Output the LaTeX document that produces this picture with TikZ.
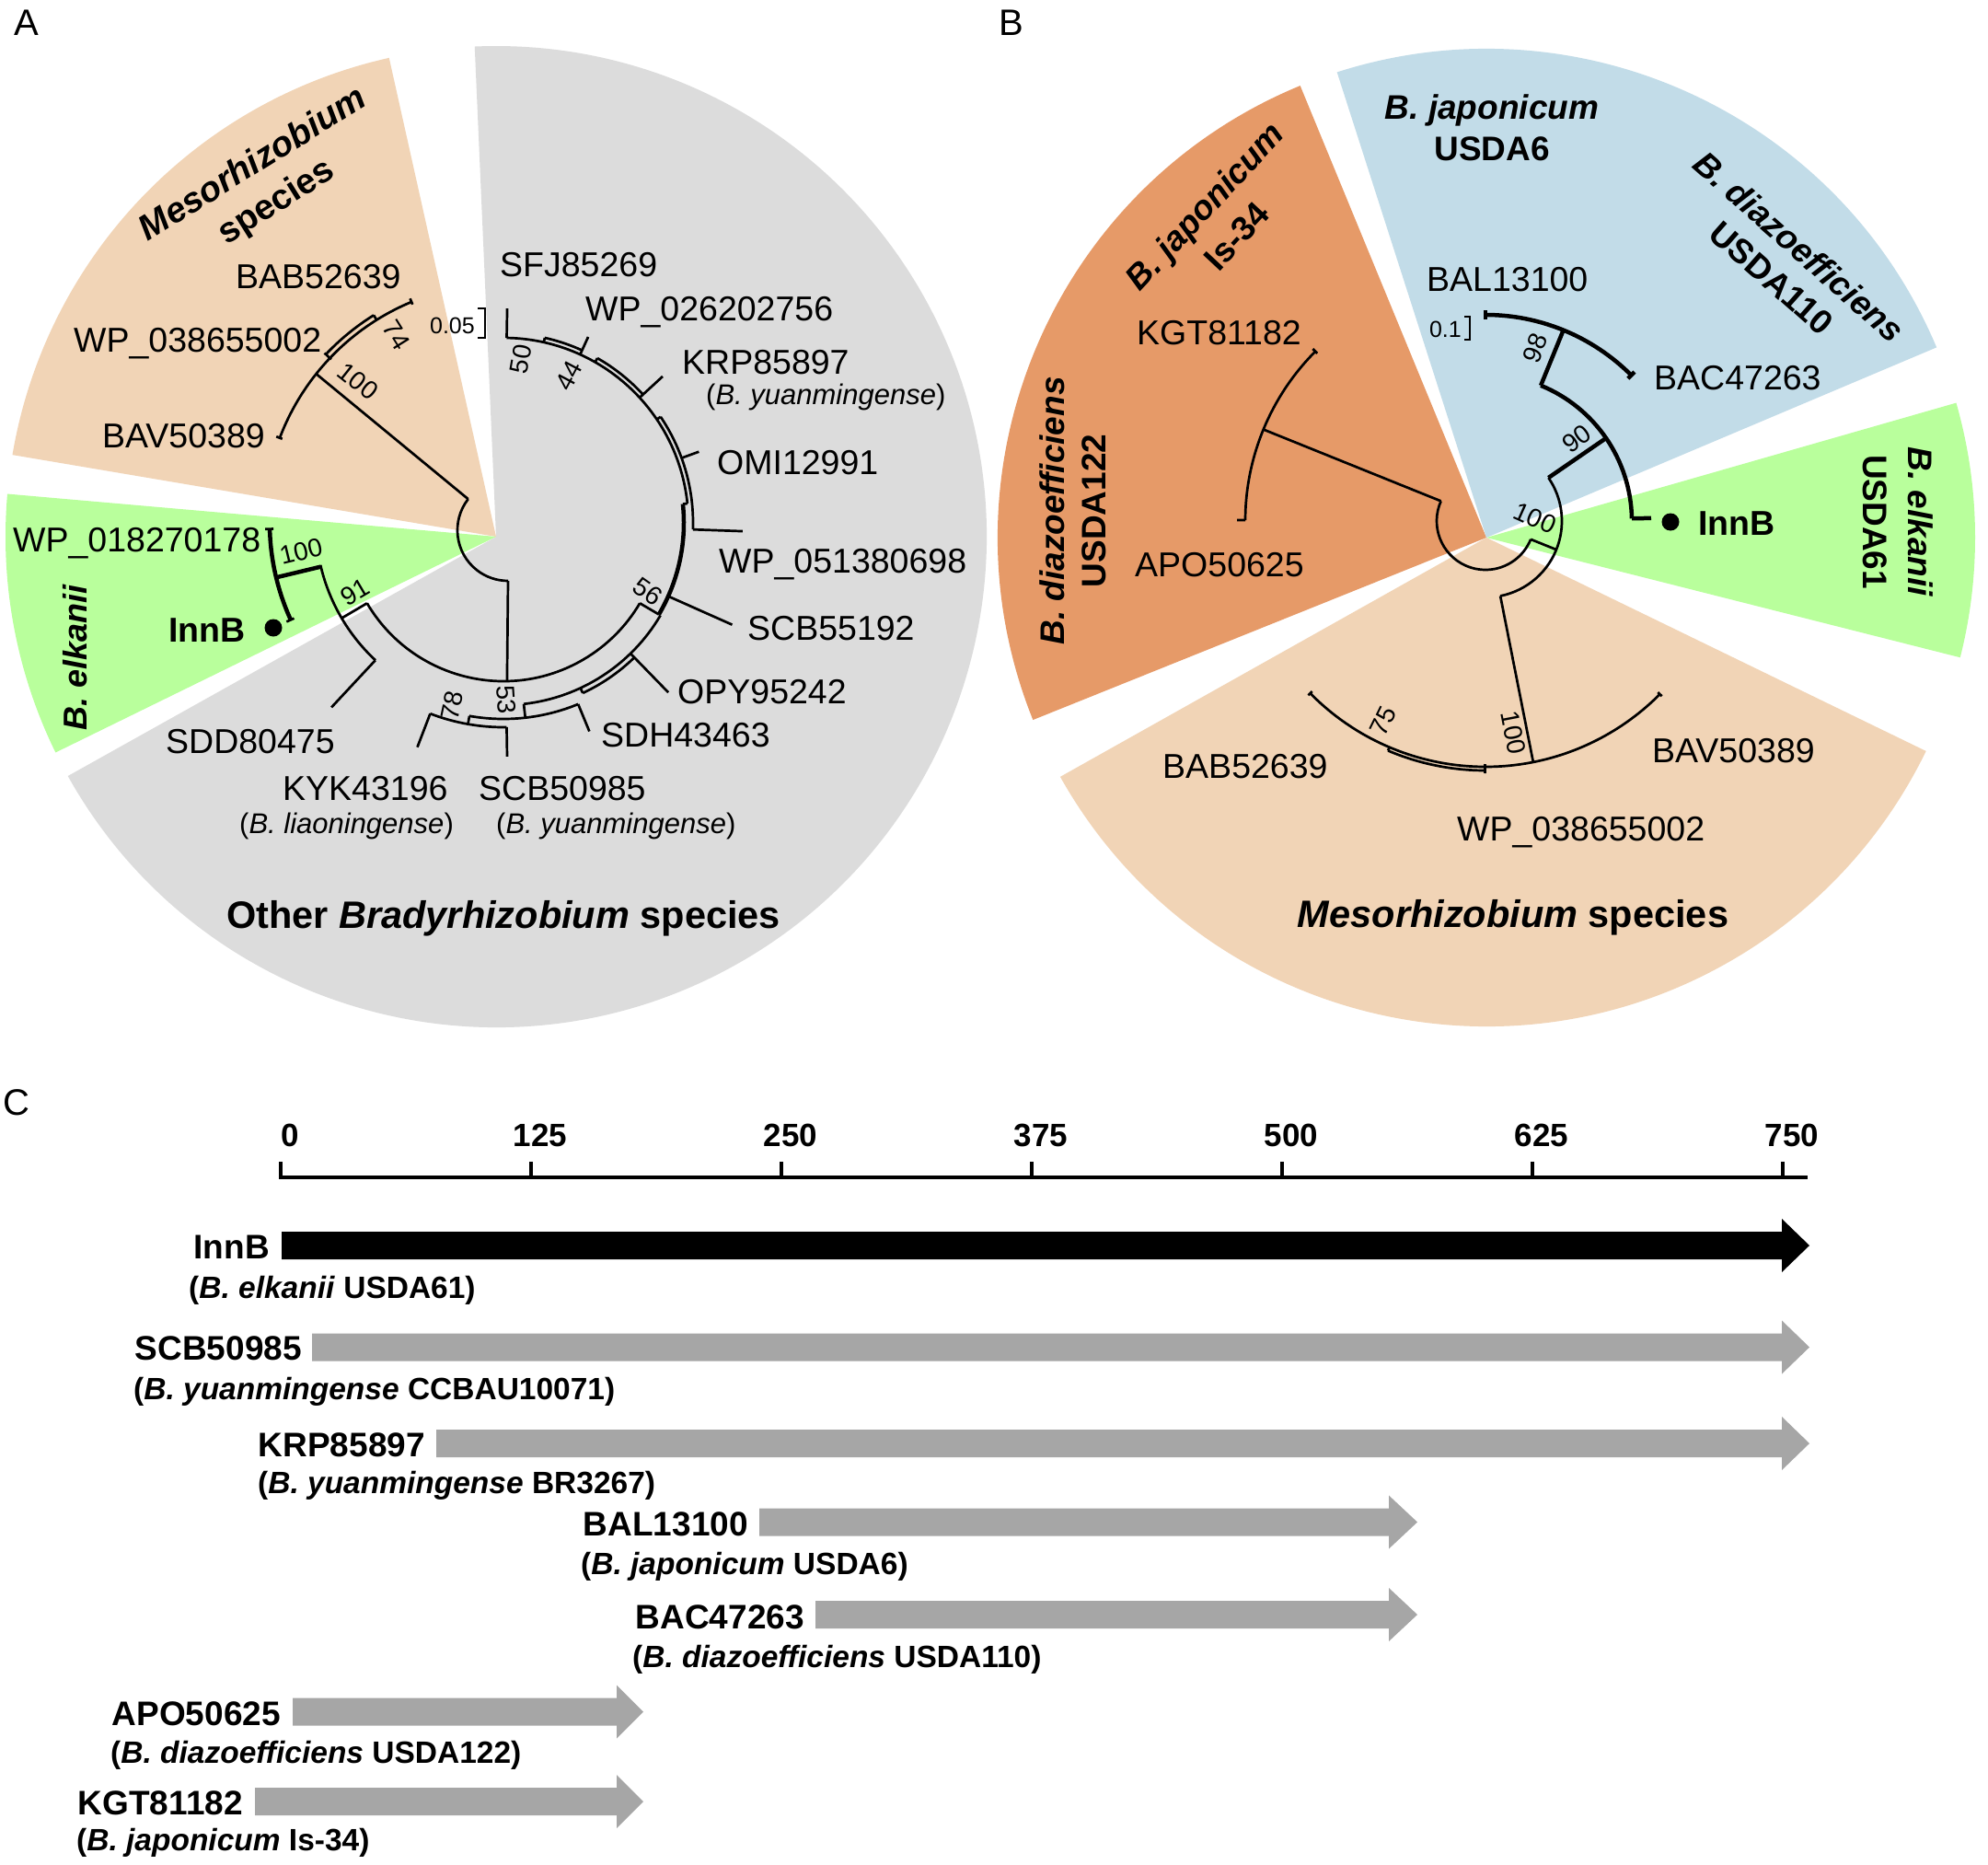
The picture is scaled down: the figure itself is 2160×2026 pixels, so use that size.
\documentclass[tikz,border=0pt]{standalone}
\usepackage{fontspec}
\setmainfont{Liberation Sans}
\usetikzlibrary{calc}
\definecolor{wgray}{HTML}{DCDCDC}
\definecolor{wpeach}{HTML}{F1D4B6}
\definecolor{wgreen}{HTML}{B9FF9C}
\definecolor{wblue}{HTML}{C2DCE8}
\definecolor{worange}{HTML}{E69A68}
\definecolor{agray}{HTML}{A6A6A6}
\newcommand{\fsz}[2]{\fontsize{#1pt}{#2pt}\selectfont}
\newcommand{\rseg}[5][]{\draw[treeline,#1] ($(#2)+(#3:#4)$) -- ($(#2)+(#3:#5)$);}
\newcommand{\aseg}[5][]{\draw[treeline,#1] ($(#2)+(#3:#5)$) arc[start angle=#3, end angle=#4, radius=#5];}
\newcommand{\sector}[5]{\fill[#1] (#2) -- ($(#2)+(#3:#5)$) arc[start angle=#3, end angle=#4, radius=#5] -- cycle;}
% color, x0, xbase, xtip, ycenter
\newcommand{\genearrow}[5]{\fill[#1] ({#2},{-(#5)+15}) -- ({#3},{-(#5)+15}) -- ({#3},{-(#5)+29}) -- ({#4},{-(#5)}) -- ({#3},{-(#5)-29}) -- ({#3},{-(#5)-15}) -- ({#2},{-(#5)-15}) -- cycle;}
\begin{document}
\begin{tikzpicture}[x=1pt,y=1pt,
  treeline/.style={line width=2.7pt},
  thk/.style={line width=4.5pt},
  lab/.style={inner sep=0pt, anchor=west, font=\fsz{37.5}{45}},
  blab/.style={inner sep=0pt, font=\fsz{37.5}{45}\bfseries},
  sublab/.style={inner sep=0pt, anchor=west, font=\fsz{31}{37}},
  boot/.style={inner sep=0pt, font=\fsz{28}{33}},
  scl/.style={inner sep=0pt, font=\fsz{25}{30}},
  grp/.style={inner sep=0pt, align=center, font=\fsz{37}{45}\bfseries},
  bigl/.style={inner sep=0pt, font=\fsz{41.5}{50}\bfseries},
  panel/.style={inner sep=0pt, font=\fsz{40}{48}},
  gname/.style={inner sep=0pt, anchor=east, font=\fsz{37}{44}\bfseries},
  gsub/.style={inner sep=0pt, anchor=west, font=\fsz{33.5}{40}\bfseries},
  tick/.style={inner sep=0pt, font=\fsz{35}{42}\bfseries}]
\fill[white] (0,0) rectangle (2160,-2026);
\useasboundingbox (0,0) rectangle (2160,-2026);

% ---------------- Panel A ----------------
\node[panel] (pA) at (29,-25) {A};
\coordinate (WA) at (539,-583);
\sector{wgray}{WA}{-150.8}{92.5}{533}
\sector{wpeach}{WA}{102.6}{170.4}{533}
\sector{wgreen}{WA}{175}{206.1}{533}

\coordinate (TA) at (547,-568);
\coordinate (RA) at (552,-576);
% root
\aseg{RA}{142}{270}{55}
\draw[treeline] ($(RA)+(142:55)$) -- ($(TA)+(141.5:260)$);
\draw[treeline] ($(RA)+(270:55)$) -- ($(TA)+(-88.7:172)$);
% Mesorhizobium clade
\aseg{TA}{112.6}{159.2}{260}
\aseg{TA}{122}{136.5}{266}
\rseg{TA}{122}{260}{266}
\rseg{TA}{136.5}{258}{268}
\rseg{TA}{112.6}{257}{264}
\rseg{TA}{159.2}{257}{264}
% upper gray clade
\rseg{TA}{89}{201}{233}
\aseg{TA}{6}{89}{201}
\aseg{TA}{65.5}{77.4}{206}
\rseg{TA}{77.4}{201}{206}
\rseg{TA}{65.5}{201}{222}
\aseg{TA}{42.6}{60.3}{206}
\rseg{TA}{60.3}{201}{206}
\rseg{TA}{42.6}{201}{235}
\aseg{TA}{8.4}{34}{206}
\rseg{TA}{34}{201}{206}
\rseg{TA}{20}{206}{226}
\aseg{TA}{-2}{8.4}{206}
\rseg{TA}{-2}{206}{260}
\rseg{TA}{6}{196}{201}
\aseg[thk]{TA}{-30.5}{6}{196}
\rseg{TA}{-24}{196}{272}
\rseg{TA}{-30.5}{172}{196}
% node X arc
\aseg{TA}{-149.5}{-30.5}{172}
% node 91
\rseg{TA}{-149.5}{172}{204}
\aseg{TA}{-167}{-133}{204}
\rseg{TA}{-133}{204}{274}
% elkanii clade
\rseg[thk]{TA}{-166.5}{204}{254}
\aseg[thk]{TA}{181.5}{204.5}{254}
\rseg{TA}{181.5}{250}{259}
\rseg{TA}{204.5}{250}{259}
\fill (297,-682) circle[radius=9.5];
% lower gray clade
\aseg{TA}{-83.6}{-30.5}{198}
\aseg{TA}{-65}{-45.8}{204}
\rseg{TA}{-65}{198}{204}
\rseg{TA}{-45.8}{198}{257}
\rseg{TA}{-83.6}{198}{213}
\aseg{TA}{-100}{-67.6}{213}
\rseg{TA}{-67.6}{213}{245}
\rseg{TA}{-100}{213}{222}
\aseg{TA}{-111}{-89.1}{222}
\rseg{TA}{-111}{222}{261}
\rseg{TA}{-89.1}{222}{254}
% scale bar
\draw[line width=2pt] (519,-335) -- (527,-335) -- (527,-367) -- (519,-367);
\node[scl, anchor=east] (sA) at (516,-354) {0.05};
% bootstrap A
\node[boot, rotate=-58] (b74) at (431,-364) {74};
\node[boot, rotate=-38.5] (b100m) at (389,-414) {100};
\node[boot, rotate=80] (b50) at (566,-390) {50};
\node[boot, rotate=62] (b44) at (618,-408) {44};
\node[boot, rotate=-35] (b56) at (704,-643) {56};
\node[boot, rotate=-86] (b53) at (550,-760) {53};
\node[boot, rotate=78] (b78) at (491,-766) {78};
\node[boot, rotate=30.5] (b91) at (386,-643) {91};
\node[boot, rotate=13.5] (b100e) at (327,-599) {100};
% leaf labels A
\node[lab] (aSFJ) at (543,-288) {SFJ85269};
\node[lab] (aWP026) at (636,-339) {WP\_026202756};
\node[lab] (aKRP) at (741,-394) {KRP85897};
\node[sublab] (aKRPs) at (767,-431) {(\textit{B. yuanmingense})};
\node[lab] (aOMI) at (779,-503) {OMI12991};
\node[lab] (aWP051) at (781,-613) {WP\_051380698};
\node[lab] (aSCB55) at (812,-683) {SCB55192};
\node[lab] (aOPY) at (736,-752) {OPY95242};
\node[lab] (aSDH) at (653,-799) {SDH43463};
\node[lab] (aSDD) at (180,-806) {SDD80475};
\node[lab] (aKYK) at (307,-857) {KYK43196};
\node[sublab] (aKYKs) at (260,-897) {(\textit{B. liaoningense})};
\node[lab] (aSCB50) at (520,-857) {SCB50985};
\node[sublab] (aSCB50s) at (539,-897) {(\textit{B. yuanmingense})};
\node[lab] (aWP018) at (14,-590) {WP\_018270178};
\node[blab, anchor=east] (aInnB) at (267,-685) {InnB};
\node[lab] (aBAB) at (256,-301) {BAB52639};
\node[lab] (aWP038) at (80,-373) {WP\_038655002};
\node[lab] (aBAV) at (111,-474) {BAV50389};
% group labels A
\node[grp, rotate=32, font=\fsz{38.5}{48}\bfseries] (gMesoA) at (288,-200) {\textit{Mesorhizobium}\\species};
\node[grp, rotate=90, font=\fsz{36}{44}\bfseries] (gElkA) at (82,-714) {\textit{B. elkanii}};
\node[bigl] (gOther) at (547,-998) {Other \textit{Bradyrhizobium} species};

% ---------------- Panel B ----------------
\node[panel] (pB) at (1099,-25) {B};
\coordinate (WB) at (1615,-584);
\sector{worange}{WB}{112.4}{201.9}{531}
\sector{wblue}{WB}{22.9}{107.8}{531}
\sector{wgreen}{WB}{-14.2}{16}{531}
\sector{wpeach}{WB}{-150.7}{-25.9}{531}

\coordinate (TB) at (1614,-566);
\aseg{TB}{155.9}{338}{53}
\draw[treeline] ($(TB)+(155.9:53)$) -- ($(TB)+(157.6:261)$);
\aseg{TB}{135.1}{179.8}{261}
\rseg{TB}{179.8}{261}{270}
\rseg{TB}{135.1}{258}{265}
\rseg{TB}{-22}{53}{83}
\aseg{TB}{-78.8}{34.5}{83}
\rseg{TB}{-78.8}{83}{267}
\aseg{TB}{-135.5}{-44.8}{267}
\aseg{TB}{-113}{-90.1}{271}
\rseg{TB}{-113}{267}{271}
\rseg{TB}{-90.1}{264}{274}
\rseg{TB}{-135.5}{264}{270}
\rseg{TB}{-44.8}{264}{270}
\rseg[thk]{TB}{34.5}{83}{159}
\aseg[thk]{TB}{1}{67.8}{159}
\rseg[thk]{TB}{1}{159}{180}
\fill (1815,-567) circle[radius=9.5];
\rseg[thk]{TB}{67.8}{159}{224}
\aseg[thk]{TB}{45}{90}{224}
\rseg[thk]{TB}{90}{219}{229}
\rseg[thk]{TB}{45}{219}{229}
% scale bar B
\draw[line width=2pt] (1591,-344) -- (1597,-344) -- (1597,-369) -- (1591,-369);
\node[scl, anchor=east] (sB) at (1588,-358) {0.1};
% bootstrap B
\node[boot, rotate=68] (c98) at (1668,-378) {98};
\node[boot, rotate=36] (c90) at (1713,-477) {90};
\node[boot, rotate=-24] (c100) at (1668,-563) {100};
\node[boot, rotate=64] (c75) at (1503,-783) {75};
\node[boot, rotate=-79] (c100m) at (1644,-796) {100};
% leaf labels B
\node[lab] (bBAL) at (1550,-304) {BAL13100};
\node[lab] (bBAC) at (1797,-411) {BAC47263};
\node[lab] (bKGT) at (1235,-362) {KGT81182};
\node[lab] (bAPO) at (1233,-614) {APO50625};
\node[blab, anchor=west] (bInnB) at (1845,-569) {InnB};
\node[lab] (bBAB) at (1263,-833) {BAB52639};
\node[lab] (bBAV) at (1795,-816) {BAV50389};
\node[lab] (bWP038) at (1583,-904) {WP\_038655002};
% group labels B
\node[grp] (gJap6) at (1621,-139) {\textit{B. japonicum}\\USDA6};
\node[grp, rotate=-41.5] (gDia110) at (1940,-285) {\textit{B. diazoefficiens}\\USDA110};
\node[grp, rotate=47, font=\fsz{37}{48}\bfseries] (gJapIs) at (1326,-240) {\textit{B. japonicum}\\Is-34};
\node[grp, rotate=90] (gDia122) at (1166,-555) {\textit{B. diazoefficiens}\\USDA122};
\node[grp, rotate=-90, font=\fsz{37}{49}\bfseries] (gElkB) at (2062,-567) {\textit{B. elkanii}\\USDA61};
\node[bigl] (gMesoB) at (1644,-997) {\textit{Mesorhizobium} species};

% ---------------- Panel C ----------------
\node[panel] (pC) at (18,-1198) {C};
\draw[line width=3.3pt] (305,-1262) -- (305,-1279) -- (1964,-1279);
\foreach \k/\t in {0/0,1/125,2/250,3/375,4/500,5/625,6/750}{
  \draw[line width=3.3pt] ({305+272*\k},-1279) -- ({305+272*\k},-1262);
  \node[tick] (t\k) at ({315+272*\k},-1233) {\t};
}
\genearrow{black}{306}{1936}{1966}{1353}
\genearrow{agray}{339}{1936}{1966}{1463.5}
\genearrow{agray}{474}{1936}{1966}{1568}
\genearrow{agray}{825}{1509}{1540}{1653.5}
\genearrow{agray}{886}{1509}{1540}{1754}
\genearrow{agray}{318}{670}{699}{1859.5}
\genearrow{agray}{277}{670}{699}{1957}
\node[gname] (cInnB) at (293,-1355) {InnB};
\node[gsub] (cInnBs) at (205,-1402) {(\textit{B. elkanii} USDA61)};
\node[gname] (cSCB) at (328,-1465) {SCB50985};
\node[gsub] (cSCBs) at (145,-1512) {(\textit{B. yuanmingense} CCBAU10071)};
\node[gname] (cKRP) at (462,-1570) {KRP85897};
\node[gsub] (cKRPs) at (280,-1614) {(\textit{B. yuanmingense} BR3267)};
\node[gname] (cBAL) at (813,-1656) {BAL13100};
\node[gsub] (cBALs) at (631,-1702) {(\textit{B. japonicum} USDA6)};
\node[gname] (cBAC) at (874,-1757) {BAC47263};
\node[gsub] (cBACs) at (687,-1803) {(\textit{B. diazoefficiens} USDA110)};
\node[gname] (cAPO) at (305,-1862) {APO50625};
\node[gsub] (cAPOs) at (120,-1907) {(\textit{B. diazoefficiens} USDA122)};
\node[gname] (cKGT) at (264,-1959) {KGT81182};
\node[gsub] (cKGTs) at (83,-2002) {(\textit{B. japonicum} Is-34)};
\end{tikzpicture}
\end{document}
